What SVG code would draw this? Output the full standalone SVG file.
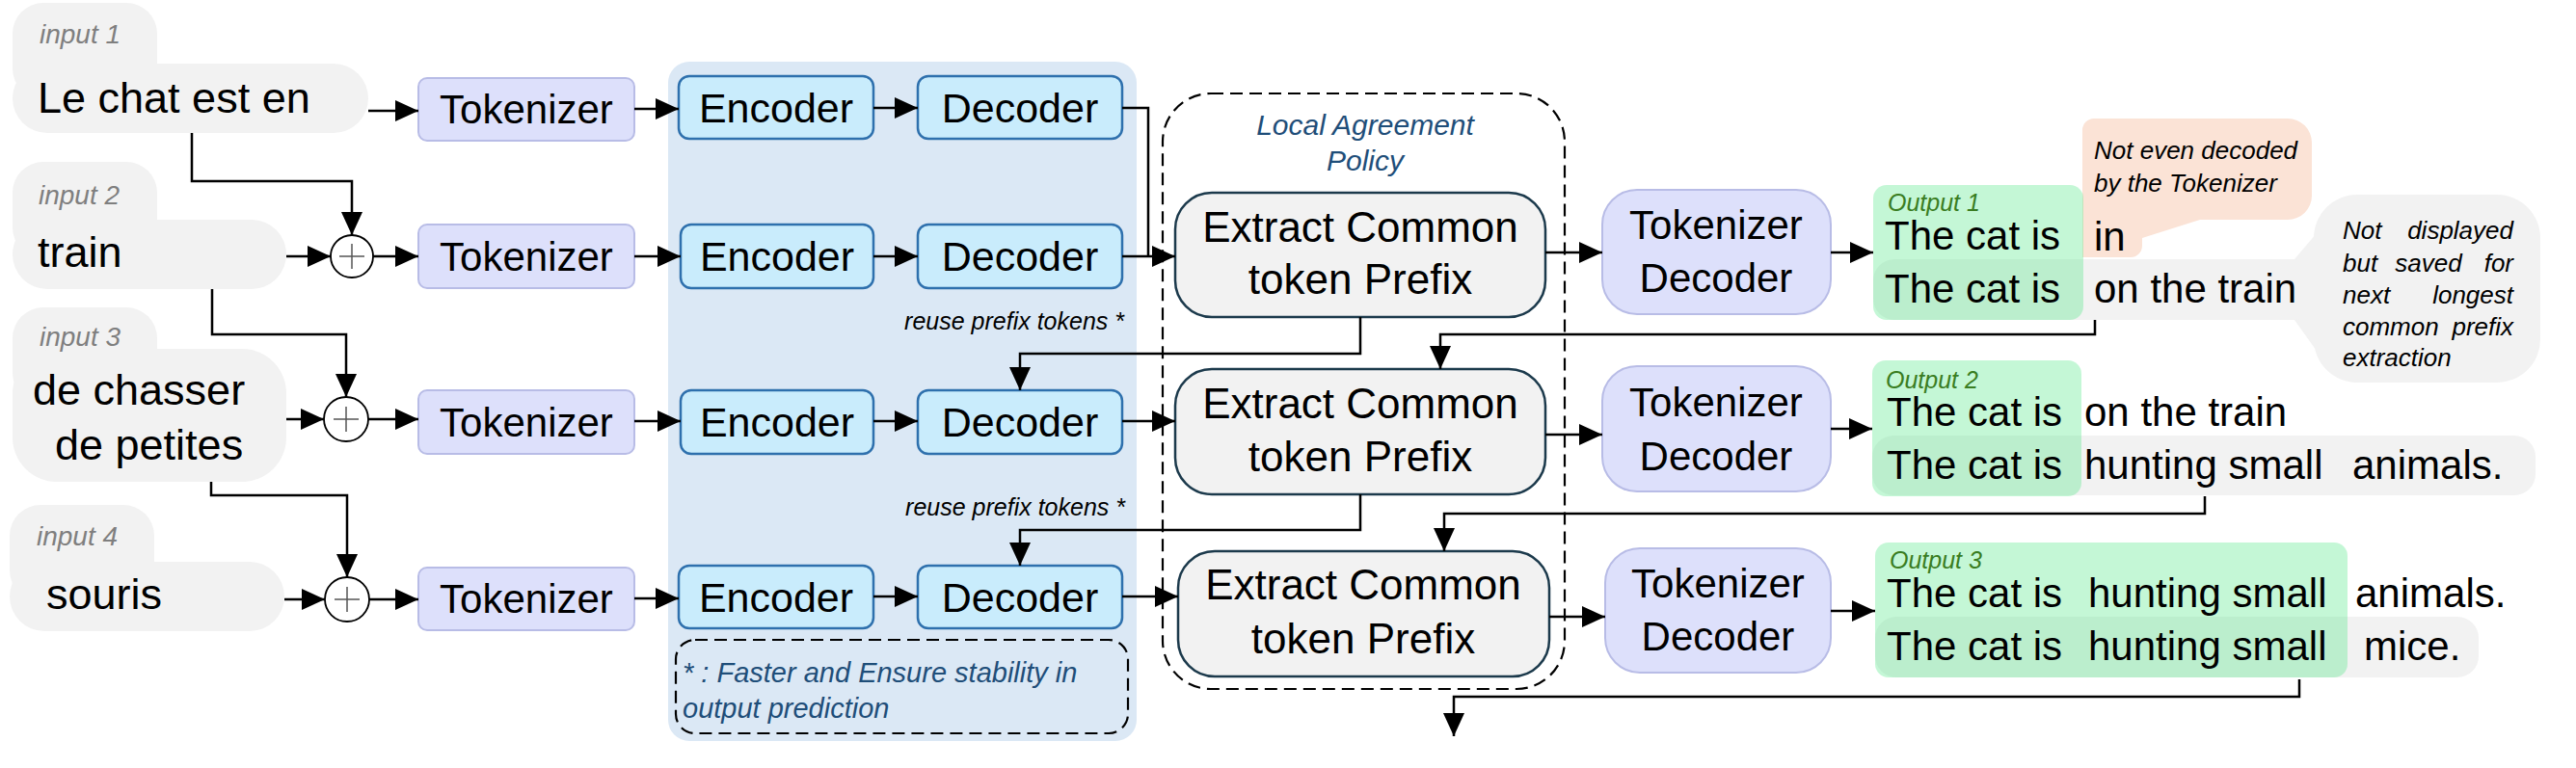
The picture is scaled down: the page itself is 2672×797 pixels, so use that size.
<svg xmlns="http://www.w3.org/2000/svg" width="2672" height="797" viewBox="0 0 2672 797">
<defs>
<marker id="ah" viewBox="0 0 24 22" refX="24" refY="11" markerWidth="24" markerHeight="22" markerUnits="userSpaceOnUse" orient="auto">
<path d="M0,0 L24,11 L0,22 z" fill="#000"/>
</marker>
</defs>
<style>
text{font-family:"Liberation Sans",Arial,sans-serif;fill:#000}
.bub{fill:#f2f2f2}
.lbl{font-size:28px;font-style:italic;fill:#7f7f7f}
.in{font-size:45px}
.tok{fill:#dde0fb;stroke:#b8bce6;stroke-width:2}
.enc{fill:#c9ecfc;stroke:#2e70ad;stroke-width:2.5}
.ext{fill:#f2f2f2;stroke:#1c3a4c;stroke-width:2.5}
.t42{font-size:42px;text-anchor:middle}
.t43{font-size:43px;text-anchor:middle}
.t44{font-size:44px;text-anchor:middle}
.blue{font-style:italic;fill:#1f4e79}
.small{font-size:25px;font-style:italic;text-anchor:end}
.grn{fill:#56e88a;fill-opacity:0.35}
.olbl{font-size:25px;font-style:italic;fill:#3a7d22}
.out{font-size:42px}
.note{font-size:26px;font-style:italic}
.c{fill:none;stroke:#000;stroke-width:2.5}
.ca{fill:none;stroke:#000;stroke-width:2.5;marker-end:url(#ah)}
.dash{fill:none;stroke:#000;stroke-width:2.2;stroke-dasharray:13 7}
</style>

<rect id="panel" x="693" y="64" width="486" height="705" rx="22" fill="#dbe8f5"/>

<g id="input1">
<rect class="bub" x="13" y="3" width="150" height="100" rx="32"/>
<rect class="bub" x="13" y="66" width="369" height="72" rx="36"/>
<text class="lbl" x="41" y="45">input 1</text>
<text class="in" x="39" y="117">Le chat est en</text>
</g>
<g id="input2">
<rect class="bub" x="13" y="168" width="150" height="100" rx="32"/>
<rect class="bub" x="13" y="228" width="284" height="72" rx="36"/>
<text class="lbl" x="40" y="212">input 2</text>
<text class="in" x="39" y="277">train</text>
</g>
<g id="input3">
<rect class="bub" x="13" y="319" width="150" height="100" rx="32"/>
<rect class="bub" x="13" y="362" width="284" height="138" rx="46"/>
<text class="lbl" x="41" y="359">input 3</text>
<text class="in" x="34" y="420">de chasser</text>
<text class="in" x="57" y="477">de petites</text>
</g>
<g id="input4">
<rect class="bub" x="10" y="524" width="150" height="100" rx="32"/>
<rect class="bub" x="10" y="583" width="285" height="72" rx="36"/>
<text class="lbl" x="38" y="566">input 4</text>
<text class="in" x="48" y="632">souris</text>
</g>

<g id="plus2"><circle cx="365" cy="266" r="22" fill="#fff" stroke="#000" stroke-width="1.8"/><path d="M352,266 H378 M365,253 V279" stroke="#555" stroke-width="1.5"/></g>
<g id="plus3"><circle cx="359" cy="435" r="23" fill="#fff" stroke="#000" stroke-width="1.8"/><path d="M346,435 H372 M359,422 V448" stroke="#555" stroke-width="1.5"/></g>
<g id="plus4"><circle cx="360" cy="622" r="23" fill="#fff" stroke="#000" stroke-width="1.8"/><path d="M347,622 H373 M360,609 V635" stroke="#555" stroke-width="1.5"/></g>

<g id="tok1"><rect class="tok" x="434" y="81" width="224" height="65" rx="9"/><text class="t42" x="546" y="128">Tokenizer</text></g>
<g id="tok2"><rect class="tok" x="434" y="233" width="224" height="66" rx="9"/><text class="t42" x="546" y="281">Tokenizer</text></g>
<g id="tok3"><rect class="tok" x="434" y="405" width="224" height="66" rx="9"/><text class="t42" x="546" y="453">Tokenizer</text></g>
<g id="tok4"><rect class="tok" x="434" y="589" width="224" height="65" rx="9"/><text class="t42" x="546" y="636">Tokenizer</text></g>

<g id="enc1"><rect class="enc" x="704" y="79" width="202" height="65" rx="11"/><text class="t43" x="805" y="127">Encoder</text></g>
<g id="enc2"><rect class="enc" x="706" y="233" width="200" height="66" rx="11"/><text class="t43" x="806" y="281">Encoder</text></g>
<g id="enc3"><rect class="enc" x="706" y="405" width="200" height="66" rx="11"/><text class="t43" x="806" y="453">Encoder</text></g>
<g id="enc4"><rect class="enc" x="704" y="587" width="202" height="65" rx="11"/><text class="t43" x="805" y="635">Encoder</text></g>

<g id="dec1"><rect class="enc" x="952" y="79" width="212" height="65" rx="11"/><text class="t43" x="1058" y="127">Decoder</text></g>
<g id="dec2"><rect class="enc" x="952" y="233" width="212" height="66" rx="11"/><text class="t43" x="1058" y="281">Decoder</text></g>
<g id="dec3"><rect class="enc" x="952" y="405" width="212" height="66" rx="11"/><text class="t43" x="1058" y="453">Decoder</text></g>
<g id="dec4"><rect class="enc" x="952" y="587" width="212" height="65" rx="11"/><text class="t43" x="1058" y="635">Decoder</text></g>

<text class="small" x="1166" y="342">reuse prefix tokens *</text>
<text class="small" x="1167" y="535">reuse prefix tokens *</text>

<g id="note">
<rect class="dash" x="701" y="664" width="469" height="97" rx="20"/>
<text class="blue" x="708" y="708" font-size="29">* : Faster and Ensure stability in</text>
<text class="blue" x="708" y="745" font-size="29">output prediction</text>
</g>

<g id="policy">
<rect class="dash" x="1206" y="97" width="417" height="618" rx="50"/>
<text class="blue" x="1416" y="140" font-size="30" text-anchor="middle">Local Agreement</text>
<text class="blue" x="1416" y="177" font-size="30" text-anchor="middle">Policy</text>
</g>

<g id="ext1"><rect class="ext" x="1219" y="200" width="384" height="129" rx="38"/><text class="t44" x="1411" y="251">Extract Common</text><text class="t44" x="1411" y="305">token Prefix</text></g>
<g id="ext2"><rect class="ext" x="1219" y="383" width="384" height="130" rx="38"/><text class="t44" x="1411" y="434">Extract Common</text><text class="t44" x="1411" y="489">token Prefix</text></g>
<g id="ext3"><rect class="ext" x="1222" y="572" width="385" height="130" rx="38"/><text class="t44" x="1414" y="622">Extract Common</text><text class="t44" x="1414" y="678">token Prefix</text></g>

<g id="tokdec1"><rect class="tok" x="1662" y="197" width="237" height="129" rx="36"/><text class="t42" x="1780" y="248">Tokenizer</text><text class="t42" x="1780" y="303">Decoder</text></g>
<g id="tokdec2"><rect class="tok" x="1662" y="380" width="237" height="130" rx="36"/><text class="t42" x="1780" y="432">Tokenizer</text><text class="t42" x="1780" y="488">Decoder</text></g>
<g id="tokdec3"><rect class="tok" x="1665" y="569" width="234" height="129" rx="36"/><text class="t42" x="1782" y="620">Tokenizer</text><text class="t42" x="1782" y="675">Decoder</text></g>

<g id="callout2">
<path class="bub" d="M2380,269 L2420,222 L2420,388 L2380,332 z"/>
<rect class="bub" x="2400" y="202" width="235" height="195" rx="45"/>
<text class="note" x="2430" y="248">Not</text><text class="note" x="2607" y="248" text-anchor="end">displayed</text>
<text class="note" x="2430" y="282">but</text><text class="note" x="2519" y="282" text-anchor="middle">saved</text><text class="note" x="2607" y="282" text-anchor="end">for</text>
<text class="note" x="2430" y="315">next</text><text class="note" x="2607" y="315" text-anchor="end">longest</text>
<text class="note" x="2430" y="348">common</text><text class="note" x="2607" y="348" text-anchor="end">prefix</text>
<text class="note" x="2430" y="380">extraction</text>
</g>

<g id="output1">
<rect class="bub" x="1943" y="269" width="459" height="63" rx="22"/>
<path d="M2172,123 H2373 A25,25 0 0 1 2398,148 V203 A25,25 0 0 1 2373,228 H2282 L2222,247 V255 A12,12 0 0 1 2210,267 H2160 V135 A12,12 0 0 1 2172,123 z" fill="#fbe3d6"/>
<rect class="grn" x="1943" y="192" width="218" height="140" rx="14"/>
<text class="olbl" x="1958" y="219">Output 1</text>
<text class="out" x="1955" y="259">The cat is</text>
<text class="out" x="1955" y="314">The cat is</text>
<text class="out" x="2172" y="260">in</text>
<text class="out" x="2172" y="314">on the train</text>
<text class="note" x="2172" y="165">Not even decoded</text>
<text class="note" x="2172" y="199">by the Tokenizer</text>
</g>

<g id="output2">
<rect class="bub" x="1942" y="452" width="688" height="62" rx="22"/>
<rect class="grn" x="1942" y="374" width="217" height="141" rx="14"/>
<text class="olbl" x="1956" y="403">Output 2</text>
<text class="out" x="1957" y="442">The cat is</text>
<text class="out" x="1957" y="497">The cat is</text>
<text class="out" x="2162" y="442">on the train</text>
<text class="out" x="2162" y="497">hunting small</text>
<text class="out" x="2440" y="497">animals.</text>
</g>

<g id="output3">
<rect class="bub" x="1945" y="640" width="626" height="63" rx="22"/>
<rect class="grn" x="1945" y="563" width="490" height="140" rx="14"/>
<text class="olbl" x="1960" y="590">Output 3</text>
<text class="out" x="1957" y="630">The cat is</text>
<text class="out" x="1957" y="685">The cat is</text>
<text class="out" x="2166" y="630">hunting small</text>
<text class="out" x="2166" y="685">hunting small</text>
<text class="out" x="2443" y="630">animals.</text>
<text class="out" x="2452" y="685">mice.</text>
</g>

<g id="connectors">
<path class="ca" d="M382,115 H434"/>
<path class="ca" d="M658,113 H704"/>
<path class="ca" d="M906,112 H952"/>
<path class="c" d="M1164,112 H1191 V266"/>
<path class="ca" d="M199,138 V188 H365 V244"/>
<path class="ca" d="M297,266 H343"/>
<path class="ca" d="M387,266 H434"/>
<path class="ca" d="M658,266 H706"/>
<path class="ca" d="M906,266 H952"/>
<path class="ca" d="M1164,266 H1219"/>
<path class="ca" d="M220,300 V347 H359 V412"/>
<path class="ca" d="M297,435 H336"/>
<path class="ca" d="M382,435 H434"/>
<path class="ca" d="M658,437 H706"/>
<path class="ca" d="M906,437 H952"/>
<path class="ca" d="M1164,437 H1219"/>
<path class="ca" d="M219,500 V514 H360 V599"/>
<path class="ca" d="M295,622 H337"/>
<path class="ca" d="M383,622 H434"/>
<path class="ca" d="M658,621 H704"/>
<path class="ca" d="M906,619 H952"/>
<path class="ca" d="M1164,619 H1222"/>
<path class="ca" d="M1411,329 V367 H1058 V405"/>
<path class="ca" d="M1411,513 V550 H1058 V587"/>
<path class="ca" d="M1603,262 H1662"/>
<path class="ca" d="M1899,262 H1943"/>
<path class="ca" d="M1603,451 H1662"/>
<path class="ca" d="M1899,445 H1942"/>
<path class="ca" d="M1607,640 H1665"/>
<path class="ca" d="M1899,634 H1945"/>
<path class="ca" d="M2173,332 V347 H1494 V383"/>
<path class="ca" d="M2287,515 V533 H1498 V572"/>
<path class="ca" d="M2385,705 V723 H1508 V764"/>
</g>
</svg>
